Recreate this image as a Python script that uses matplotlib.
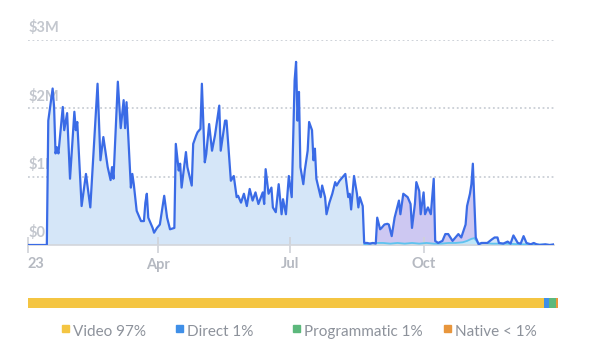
import matplotlib.pyplot as plt
from matplotlib.transforms import blended_transform_factory

plt.rcParams['font.family'] = ['Lato', 'DejaVu Sans']

# revenue over 2023, day of year -> $M
days = [0, 13, 14, 17, 18, 19, 20, 21, 24, 25, 27, 29, 32, 33, 34, 37, 40, 43,
        48, 50, 52, 55, 57, 58, 59, 62, 64, 66, 67, 68, 71, 72, 73, 75, 78, 80,
        81, 82, 83, 86, 87, 89, 91, 94, 96, 98, 101, 102, 104, 105, 106, 109,
        110, 113, 114, 116, 117, 119, 120, 122, 123, 125, 127, 129, 132, 133,
        136, 137, 140, 142, 144, 145, 147, 149, 151, 153, 155, 157, 159, 162,
        163, 164, 166, 168, 169, 171, 173, 175, 176, 178, 180, 182, 184, 185,
        186, 187, 188, 190, 191, 193, 194, 196, 197, 198, 199, 202, 203, 205,
        206, 208, 210, 212, 213, 215, 219, 221, 222, 223, 225, 227, 228, 229,
        231, 232, 234, 236, 238, 240, 241, 243, 244, 246, 248, 249, 251, 253,
        256, 257, 259, 262, 264, 265, 267, 268, 270, 271, 273, 274, 276, 278,
        280, 281, 283, 286, 288, 290, 293, 295, 297, 299, 302, 303, 305, 306,
        307, 309, 311, 313, 317, 320, 322, 324, 325, 328, 331, 333, 335, 338,
        340, 342, 344, 347, 349, 351, 353, 357, 360, 363]
total = [0, 0, 1.82, 2.29, 2.02, 1.34, 1.43, 1.34, 2.02, 1.68, 1.93, 0.97,
         1.95, 1.68, 1.80, 0.57, 1.04, 0.55, 2.36, 1.24, 1.58, 1.14, 0.95,
         1.14, 0.97, 2.39, 1.71, 2.12, 1.71, 2.09, 0.84, 1.04, 0.89, 0.50,
         0.35, 0.35, 0.62, 0.75, 0.40, 0.25, 0.18, 0.25, 0.30, 0.72, 0.40,
         0.23, 0.25, 1.48, 1.09, 1.19, 0.84, 1.36, 1.14, 0.87, 1.48, 1.60,
         1.65, 1.70, 2.36, 1.21, 1.33, 1.77, 1.38, 1.60, 2.04, 1.38, 1.82,
         1.82, 0.94, 1.01, 0.70, 0.72, 0.62, 0.75, 0.57, 0.82, 0.65, 0.77,
         0.60, 0.77, 0.60, 1.11, 0.75, 0.84, 0.55, 0.48, 0.89, 0.45, 0.67,
         0.45, 1.01, 0.70, 2.41, 2.68, 1.82, 2.24, 1.14, 0.89, 1.09, 1.38,
         1.80, 1.68, 1.24, 1.41, 0.97, 0.70, 0.87, 0.70, 0.45, 0.62, 0.75,
         0.92, 0.87, 0.94, 1.04, 0.70, 0.75, 0.52, 1.01, 0.75, 0.55, 0.70,
         0.57, 0.03, 0.03, 0.02, 0.03, 0.02, 0.40, 0.23, 0.25, 0.30, 0.31,
         0.30, 0.13, 0.40, 0.65, 0.45, 0.75, 0.70, 0.60, 0.25, 0.60, 0.92,
         0.79, 0.45, 0.77, 0.45, 0.55, 0.45, 0.97, 0.06, 0.03, 0.06, 0.16,
         0.16, 0.06, 0.11, 0.16, 0.11, 0.30, 0.57, 0.75, 0.89, 1.19, 0.11,
         0.01, 0.03, 0.03, 0.08, 0.11, 0.11, 0.03, 0.02, 0.05, 0.02, 0.14,
         0.03, 0.02, 0.13, 0.03, 0.01, 0.03, 0.01, 0.00, 0.01, 0.00, 0.01]

# second, small series shown in light blue at the bottom
low_days = [232, 236, 240, 245, 250, 255, 260, 265, 270, 275, 280, 285, 290,
            295, 300, 303, 306, 308, 311, 315, 320, 330, 340, 350, 363]
low = [0.0, 0.02, 0.03, 0.03, 0.02, 0.03, 0.02, 0.03, 0.02, 0.03, 0.02, 0.02,
       0.03, 0.03, 0.04, 0.06, 0.09, 0.10, 0.02, 0.03, 0.02, 0.02, 0.01, 0.01,
       0.0]

# highlighted period (purple fill)
hl_start, hl_end = 232, 311

tick_days = [0, 90, 181, 273]
tick_labels = ['23', 'Apr', 'Jul', 'Oct']
y_ticks = [0, 1, 2, 3]
y_labels = ['$0', '$1M', '$2M', '$3M']

# share bar
shares = [97.4, 0.9, 1.3, 0.4]
share_names = ['Video 97%', 'Direct 1%', 'Programmatic 1%', 'Native < 1%']
share_colors = ['#f4c542', '#3f8fe8', '#5cb87c', '#e8963c']

fig = plt.figure(figsize=(6, 3.57), dpi=100)
ax = fig.add_axes([28 / 600, 1 - 245 / 357, 526 / 600, 205 / 357])

blue = '#3a6be6'
in_hl = [hl_start <= d <= hl_end for d in days]
out_hl = [d <= hl_start or d >= hl_end for d in days]
ax.fill_between(days, total, 0, where=out_hl, color='#d5e6f8', lw=0, zorder=1)
ax.fill_between(days, total, 0, where=in_hl, color='#cdc8f2', lw=0, zorder=1)
ax.fill_between(low_days, low, 0, color='#bfe6f8', lw=0, zorder=2)
ax.plot(low_days, low, color='#5ec3ef', lw=1.3, zorder=3)
ax.plot(days, total, color=blue, lw=1.6, zorder=4, solid_joinstyle='round')

ax.set_xlim(0, 363)
ax.set_ylim(0, 3)

# dotted grid + labels sitting above the lines
trans = blended_transform_factory(ax.transAxes, ax.transData)
for v, lab in zip(y_ticks, y_labels):
    if v > 0:
        ax.axhline(v, color='#cacfd6', lw=1.3, ls=(0, (1, 1.5)), zorder=0)
    ax.text(0.002, v + 0.07, lab, transform=trans, ha='left', va='bottom',
            fontsize=10.5, fontweight='bold', color='#c3c7ce', zorder=0)

for s in ['top', 'right', 'left']:
    ax.spines[s].set_visible(False)
ax.spines['bottom'].set_color('#d3d6db')
ax.spines['bottom'].set_linewidth(1.2)
ax.set_yticks([])
ax.set_xticks(tick_days)
ax.set_xticklabels(tick_labels)
ax.tick_params(axis='x', direction='inout', length=12, width=1.2,
               color='#cfd2d8', labelcolor='#b5b9c1', labelsize=10.5, pad=3)
for t in ax.get_xticklabels():
    t.set_fontweight('bold')
ax.get_xticklabels()[0].set_ha('left')

# share bar
bax = fig.add_axes([28 / 600, 1 - 308 / 357, 530 / 600, 10 / 357])
left = 0
for val, col in zip(shares, share_colors):
    bax.barh(0, val, left=left, color=col, height=1, lw=0)
    left += val
bax.set_xlim(0, sum(shares))
bax.set_ylim(-0.5, 0.5)
bax.axis('off')

# legend
sq_x = [65, 179, 296, 447]
for x, name, col in zip(sq_x, share_names, share_colors):
    fig.patches.append(plt.Rectangle((x / 600 - 3.5 / 600, 1 - 332 / 357),
                                     7 / 600, 7 / 357, color=col,
                                     transform=fig.transFigure))
    fig.text((x + 8) / 600, 1 - 332 / 357, name, ha='left', va='center',
             fontsize=11, color='#8d929b')

fig.savefig('out.png', dpi=100)
